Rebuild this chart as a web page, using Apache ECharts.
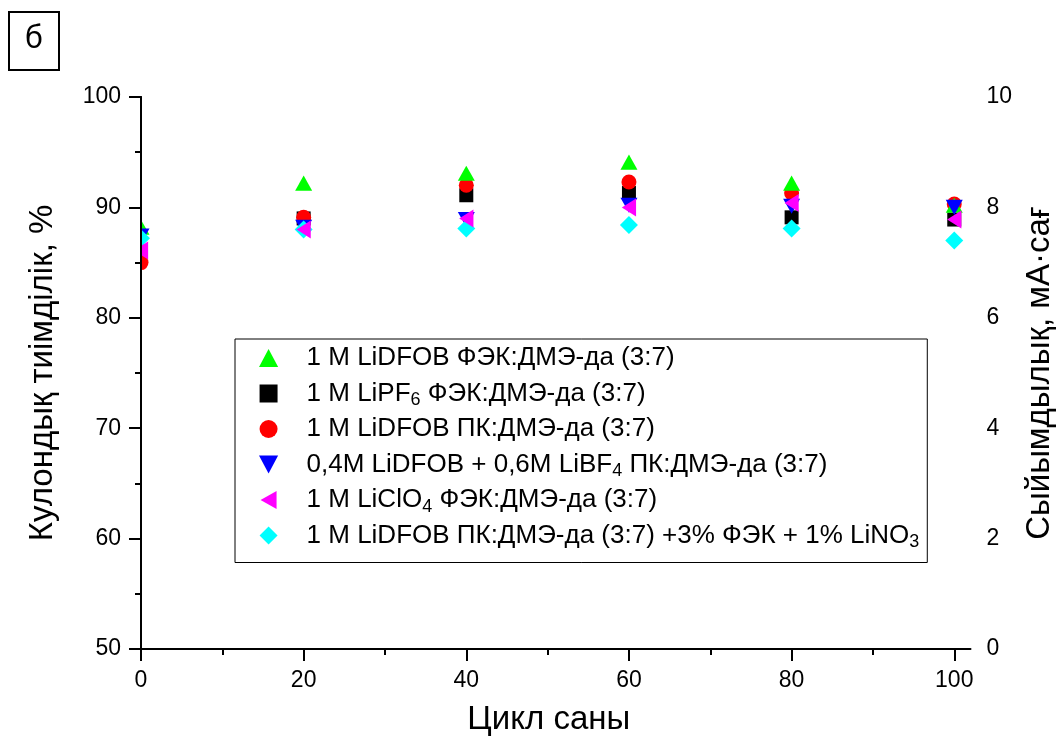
<!DOCTYPE html>
<html>
<head>
<meta charset="utf-8">
<script src="https://cdn.jsdelivr.net/npm/echarts@6/dist/echarts.min.js"></script>
<style>
  html, body { margin: 0; padding: 0; background: #fff; }
  #chart { width: 1064px; height: 746px; }
</style>
</head>
<body>
<div id="chart"></div>
<script>
// Cycle numbers
const cycles = [0, 20, 40, 60, 80, 100];
const xTicks = [0, 20, 40, 60, 80, 100];
const xMinorTicks = [10, 30, 50, 70, 90];

// Coulombic efficiency, % (one array per electrolyte)
const lidfobFec = [88.2, 92.2, 93.1, 94.1, 92.2, 90.2];
const lipf6Fec = [86.0, 89.0, 91.1, 91.3, 89.1, 88.9];
const lidfobPc = [85.0, 89.1, 92.0, 92.3, 91.3, 90.3];
const dfobBf4Pc = [87.4, 88.2, 88.9, 90.2, 90.1, 90.0];
const liclo4Fec = [86.1, 88.0, 89.0, 90.0, 90.4, 88.9];
const lidfobPcAdd = [87.2, 88.0, 88.1, 88.4, 88.1, 87.0];

// Series names (plain) and their legend text with subscripts
const names = {
  lidfobFec: '1 M LiDFOB ФЭК:ДМЭ-да (3:7)',
  lipf6Fec: '1 M LiPF6 ФЭК:ДМЭ-да (3:7)',
  lidfobPc: '1 M LiDFOB ПК:ДМЭ-да (3:7)',
  dfobBf4Pc: '0,4M LiDFOB + 0,6M LiBF4 ПК:ДМЭ-да (3:7)',
  liclo4Fec: '1 M LiClO4 ФЭК:ДМЭ-да (3:7)',
  lidfobPcAdd: '1 M LiDFOB ПК:ДМЭ-да (3:7) +3% ФЭК + 1% LiNO3'
};
const legendText = {
  [names.lidfobFec]: '1 M LiDFOB ФЭК:ДМЭ-да (3:7)',
  [names.lipf6Fec]: '1 M LiPF{s|6} ФЭК:ДМЭ-да (3:7)',
  [names.lidfobPc]: '1 M LiDFOB ПК:ДМЭ-да (3:7)',
  [names.dfobBf4Pc]: '0,4M LiDFOB + 0,6M LiBF{s|4} ПК:ДМЭ-да (3:7)',
  [names.liclo4Fec]: '1 M LiClO{s|4} ФЭК:ДМЭ-да (3:7)',
  [names.lidfobPcAdd]: '1 M LiDFOB ПК:ДМЭ-да (3:7) +3% ФЭК + 1% LiNO{s|3}'
};

// Marker outlines
const SYM = {
  up: 'path://M8.5,0 L17,16 L0,16 Z',
  square: 'path://M0,0 L14,0 L14,14 L0,14 Z',
  circle: 'path://M7.5,0 A7.5,7.5 0 1,1 7.5,15 A7.5,7.5 0 1,1 7.5,0 Z',
  down: 'path://M0,0 L17,0 L8.5,16 Z',
  left: 'path://M16,0 L16,18 L0,9 Z',
  diamond: 'path://M9,0 L18,9 L9,18 L0,9 Z'
};

const FONT = '"Liberation Sans", Arial, sans-serif';

function pts(values) {
  return cycles.map((c, i) => [c, values[i]]);
}
function scatter(name, values, symbol, size, color) {
  return {
    name: name,
    type: 'scatter',
    xAxisIndex: 0,
    yAxisIndex: 0,
    data: pts(values),
    symbol: symbol,
    symbolSize: size,
    symbolKeepAspect: true,
    itemStyle: { color: color, opacity: 1 },
    z: 2,
    emphasis: { disabled: true }
  };
}

const chart = echarts.init(document.getElementById('chart'), null, { renderer: 'canvas' });

const axisLine = { show: true, lineStyle: { color: '#000', width: 2 } };
const GRID = { left: 141, right: 89, top: 97, bottom: 97 };

chart.setOption({
  animation: false,
  backgroundColor: '#fff',
  title: {
    text: 'б',
    left: 9,
    top: 12,
    padding: [12, 16, 16, 16],
    borderColor: '#000',
    borderWidth: 2,
    textStyle: { fontFamily: '"Noto Sans", "Open Sans", sans-serif', fontSize: 30, fontWeight: 'normal', color: '#000' }
  },
  grid: Object.assign({ containLabel: false }, GRID),
  // markers are cut at the left frame of the plot area
  graphic: [{
    type: 'rect',
    z: 5,
    silent: true,
    shape: { x: GRID.left - 30, y: GRID.top, width: 29, height: 746 - GRID.top - GRID.bottom },
    style: { fill: '#fff' }
  }],
  legend: {
    orient: 'vertical',
    left: 235,
    top: 339,
    padding: [3, 8, 11, 24],
    itemGap: 3.5,
    itemWidth: 66,
    itemHeight: 18,
    borderColor: '#000',
    borderWidth: 1,
    selectedMode: false,
    z: 6,
    data: [names.lidfobFec, names.lipf6Fec, names.lidfobPc, names.dfobBf4Pc, names.liclo4Fec, names.lidfobPcAdd],
    formatter: n => legendText[n],
    textStyle: {
      fontFamily: FONT,
      fontSize: 26,
      color: '#000',
      lineHeight: 32,
      rich: {
        s: { fontFamily: FONT, fontSize: 18, lineHeight: 32, verticalAlign: 'bottom', color: '#000' }
      }
    }
  },
  xAxis: [
    {
      type: 'value',
      min: 0,
      max: 102,
      position: 'bottom',
      z: 10,
      name: 'Цикл саны',
      nameLocation: 'middle',
      nameGap: 54,
      nameTextStyle: { fontFamily: FONT, fontSize: 33, color: '#000', padding: [0, 14, 0, 0], verticalAlign: 'top' },
      axisLine: axisLine,
      axisTick: { show: true, customValues: xTicks, length: 12, lineStyle: { color: '#000', width: 2 } },
      axisLabel: { customValues: xTicks, fontFamily: FONT, fontSize: 23, color: '#000', margin: 20 },
      splitLine: { show: false }
    },
    {
      // minor ticks between the labelled cycles
      type: 'value',
      min: 0,
      max: 102,
      position: 'bottom',
      z: 10,
      axisLine: { show: false },
      axisTick: { show: true, customValues: xMinorTicks, length: 6, lineStyle: { color: '#000', width: 2 } },
      axisLabel: { show: false },
      splitLine: { show: false }
    }
  ],
  yAxis: [
    {
      type: 'value',
      position: 'left',
      min: 50,
      max: 100,
      interval: 10,
      z: 10,
      name: 'Кулондық тиімділік, %',
      nameLocation: 'middle',
      nameRotate: 90,
      nameGap: 82,
      nameTextStyle: { fontFamily: FONT, fontSize: 33, color: '#000' },
      axisLine: axisLine,
      axisTick: { show: true, length: 12, lineStyle: { color: '#000', width: 2 } },
      minorTick: { show: true, splitNumber: 2, length: 6, lineStyle: { color: '#000', width: 2 } },
      axisLabel: { fontFamily: FONT, fontSize: 23, color: '#000', margin: 20 },
      splitLine: { show: false },
      minorSplitLine: { show: false }
    },
    {
      type: 'value',
      position: 'right',
      min: 0,
      max: 10,
      interval: 2,
      z: 10,
      name: 'Сыйымдылық, мА·сағ',
      nameLocation: 'middle',
      nameRotate: 90,
      nameGap: 48,
      nameTextStyle: { fontFamily: FONT, fontSize: 33, color: '#000' },
      axisLine: axisLine,
      axisTick: { show: true, inside: true, length: 11, lineStyle: { color: '#000', width: 2 } },
      minorTick: { show: true, splitNumber: 2, length: 5, lineStyle: { color: '#000', width: 2 } },
      axisLabel: { fontFamily: FONT, fontSize: 23, color: '#000', margin: 16 },
      splitLine: { show: false },
      minorSplitLine: { show: false }
    }
  ],
  // later series are drawn on top
  series: [
    scatter(names.lipf6Fec, lipf6Fec, SYM.square, [14, 14], '#000000'),
    scatter(names.lidfobPc, lidfobPc, SYM.circle, [15, 15], '#FF0000'),
    scatter(names.lidfobFec, lidfobFec, SYM.up, [17, 16], '#00FF00'),
    scatter(names.dfobBf4Pc, dfobBf4Pc, SYM.down, [17, 16], '#0000FF'),
    scatter(names.lidfobPcAdd, lidfobPcAdd, SYM.diamond, [18, 18], '#00FFFF'),
    scatter(names.liclo4Fec, liclo4Fec, SYM.left, [16, 18], '#FF00FF')
  ]
});
</script>
</body>
</html>
